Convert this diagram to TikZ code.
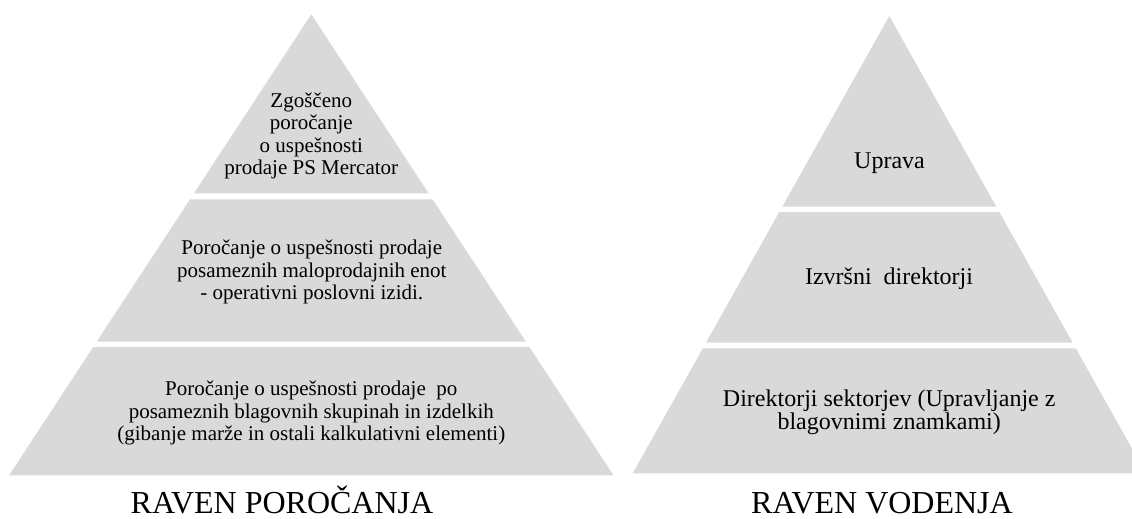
\documentclass[tikz,border=0pt]{standalone}
\usepackage{fontspec}
\setmainfont{Liberation Serif}
\definecolor{bandgray}{HTML}{D9D9D9}
\begin{document}
\begin{tikzpicture}[x=1pt,y=-1pt,
  band/.style={fill=bandgray},
  ltext/.style={align=center, inner sep=0pt, font=\fontsize{21}{22.5}\selectfont},
  rtext/.style={align=center, inner sep=0pt, font=\fontsize{24}{23}\selectfont},
  caption/.style={inner sep=0pt, anchor=base, font=\fontsize{32}{36}\selectfont}]
\useasboundingbox (0,0) rectangle (1132,519);
\clip (0,0) rectangle (1132,519);

% reporting pyramid (apex x = 311.3)
\fill[band] (311.3,14.3) -- (311.3+117.34,193.3) -- (311.3-117.34,193.3) -- cycle;
\fill[band] (311.3-121.27,199.3) -- (311.3+121.27,199.3) -- (311.3+214.62,341.7) -- (311.3-214.62,341.7) -- cycle;
\fill[band] (311.3-218.09,347) -- (311.3+218.09,347) -- (311.3+302.2,475.3) -- (311.3-302.2,475.3) -- cycle;

\node[ltext] (r1) at (311.3,136) {Zgoščeno\\ poročanje\\ o uspešnosti\\ prodaje PS Mercator};
\node[ltext] (r2) at (311.8,272) {Poročanje o uspešnosti prodaje\\ posameznih maloprodajnih enot\\ - operativni poslovni izidi.};
\node[ltext] (r3) at (311.3,413) {Poročanje o uspešnosti prodaje\ \ po\\ posameznih blagovnih skupinah in izdelkih\\ (gibanje marže in ostali kalkulativni elementi)};

% management pyramid (apex x = 889.3)
\fill[band] (889.3,16) -- (889.3+107.0,206.7) -- (889.3-107.0,206.7) -- cycle;
\fill[band] (889.3-109.98,212) -- (889.3+109.98,212) -- (889.3+183.21,342.5) -- (889.3-183.21,342.5) -- cycle;
\fill[band] (889.3-186.46,348.3) -- (889.3+186.46,348.3) -- (889.3+256.6,473.3) -- (889.3-256.6,473.3) -- cycle;

\node[rtext] (v1) at (889.5,163) {Uprava};
\node[rtext] (v2) at (889,279) {Izvršni\ \ direktorji};
\node[rtext] (v3) at (889.2,412) {Direktorji sektorjev (Upravljanje z\\ blagovnimi znamkami)};

% captions
\node[caption] (c1) at (282,513) {RAVEN POROČANJA};
\node[caption] (c2) at (882,513) {RAVEN VODENJA};
\end{tikzpicture}
\end{document}
